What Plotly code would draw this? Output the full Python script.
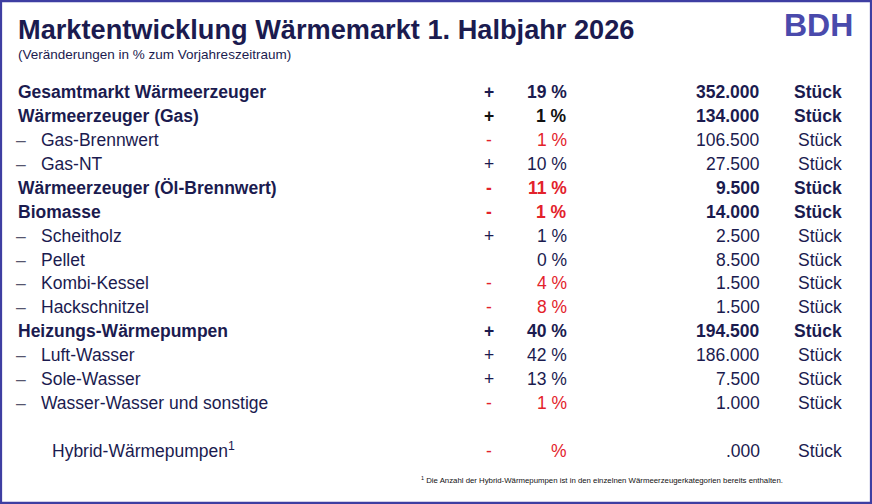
import plotly.graph_objects as go

# ---- data ----
labels = ["Gesamtmarkt Wärmeerzeuger", "Wärmeerzeuger (Gas)", "Gas-Brennwert", "Gas-NT",
          "Wärmeerzeuger (Öl-Brennwert)", "Biomasse", "Scheitholz", "Pellet", "Kombi-Kessel",
          "Hackschnitzel", "Heizungs-Wärmepumpen", "Luft-Wasser", "Sole-Wasser",
          "Wasser-Wasser und sonstige"]
levels = [0, 0, 1, 1, 0, 0, 1, 1, 1, 1, 0, 1, 1, 1]
signs = ["+", "+", "-", "+", "-", "-", "+", "", "-", "-", "+", "+", "+", "-"]
changes = [19, 1, 1, 10, 11, 1, 1, 0, 4, 8, 40, 42, 13, 1]
units = [352000, 134000, 106500, 27500, 9500, 14000, 2500, 8500, 1500, 1500,
         194500, 186000, 7500, 1000]
unit_label = "Stück"

hybrid_label = "Hybrid-Wärmepumpen<sup>1</sup>"
hybrid_sign = "-"
hybrid_change = "%"
hybrid_units = ".000"

title = "Marktentwicklung Wärmemarkt 1. Halbjahr 2026"
subtitle = "(Veränderungen in % zum Vorjahreszeitraum)"
footnote = "<sup>1</sup> Die Anzahl der Hybrid-Wärmepumpen ist in den einzelnen Wärmeerzeugerkategorien bereits enthalten."
logo = "BDH"

# ---- styling ----
W, H = 872, 504
NAVY = "#1b1b4f"
RED = "#e3222b"
BLACK = "#111111"
DASH = "#55556e"
LOGO = "#4a4aac"
BORDER = "#3e3ea2"
FONT = "Liberation Sans, Arial, sans-serif"
FS = 17.5

ROW0, STEP = 92, 23.93
X_LABEL, X_SUB, X_DASH = 16, 39, 21
X_SIGN, X_PCT, X_NUM, X_UNIT = 489, 569, 762, 844


def fmt(v):
    return f"{v:,}".replace(",", ".")


fig = go.Figure()
ann = []


def add(x, y, text, anchor, size=FS, color=NAVY, bold=False):
    if bold:
        text = f"<b>{text}</b>"
    ann.append(dict(x=x, y=y, xref="x", yref="y", text=text, showarrow=False,
                    xanchor=anchor, yanchor="middle",
                    font=dict(family=FONT, size=size, color=color)))


for i, (lab, lev, s, c, u) in enumerate(zip(labels, levels, signs, changes, units)):
    y = ROW0 + i * STEP
    bold = lev == 0
    neg = s == "-"
    col = RED if neg else NAVY
    if i == 1:
        col = BLACK
    if lev == 0:
        add(X_LABEL, y, lab, "left", bold=True)
    else:
        add(X_DASH, y, "–", "center", color=DASH)
        add(X_SUB, y, lab, "left")
    if s:
        add(X_SIGN, y, s, "center", color=col, bold=bold)
    add(X_PCT, y, f"{c} %", "right", color=col, bold=bold)
    add(X_NUM, y, fmt(u), "right", bold=bold)
    add(X_UNIT, y, unit_label, "right", bold=bold)

yh = ROW0 + 15 * STEP
add(50, yh - 1, hybrid_label, "left")
add(X_SIGN, yh, hybrid_sign, "center", color=RED)
add(X_PCT, yh, hybrid_change, "right", color=RED)
add(X_NUM, yh, hybrid_units, "right")
add(X_UNIT, yh, unit_label, "right")

add(16, 29, title, "left", size=27.2, bold=True)
add(16, 54, subtitle, "left", size=13.5)
add(818, 25, logo, "center", size=32, color=LOGO, bold=True)
add(419, 480, footnote, "left", size=7.8, color=BLACK)

fig.update_layout(
    width=W, height=H,
    margin=dict(l=0, r=0, t=0, b=0),
    paper_bgcolor="white", plot_bgcolor="white",
    xaxis=dict(range=[0, W], visible=False, fixedrange=True),
    yaxis=dict(range=[H, 0], visible=False, fixedrange=True),
    annotations=ann,
    shapes=[dict(type="rect", xref="paper", yref="paper", x0=0.001, y0=0.002,
                 x1=0.999, y1=0.998, line=dict(color=BORDER, width=2.5))],
    showlegend=False,
)

fig.write_html("out.html", config={"displayModeBar": False})

# remove the browser's default body margin so the figure fills the window
with open("out.html", encoding="utf-8") as f:
    html = f.read()
html = html.replace("<body>", '<body style="margin:0;overflow:hidden">', 1)
with open("out.html", "w", encoding="utf-8") as f:
    f.write(html)
